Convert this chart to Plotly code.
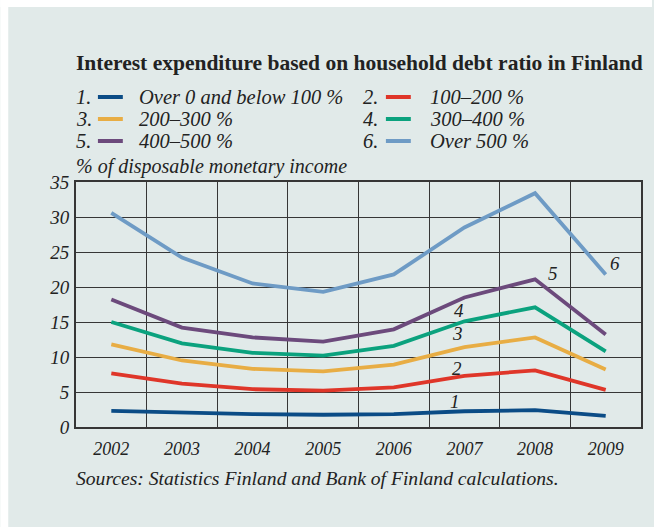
import plotly.graph_objects as go

# Years on the horizontal axis
years = [2002, 2003, 2004, 2005, 2006, 2007, 2008, 2009]

# Interest expenditure, % of disposable monetary income, by debt-ratio group
s1_below100 = [2.3, 2.05, 1.85, 1.75, 1.85, 2.25, 2.4, 1.6]
s2_100_200 = [7.65, 6.2, 5.4, 5.2, 5.65, 7.3, 8.1, 5.3]
s3_200_300 = [11.8, 9.5, 8.3, 7.95, 8.9, 11.4, 12.8, 8.2]
s4_300_400 = [15.0, 11.95, 10.6, 10.2, 11.6, 15.1, 17.1, 10.8]
s5_400_500 = [18.2, 14.2, 12.8, 12.2, 13.95, 18.5, 21.1, 13.2]
s6_over500 = [30.6, 24.2, 20.5, 19.3, 21.8, 28.5, 33.4, 21.8]

series = [s1_below100, s2_100_200, s3_200_300, s4_300_400, s5_400_500, s6_over500]
legend_labels = ["Over 0 and below 100 %", "100–200 %", "200–300 %",
                 "300–400 %", "400–500 %", "Over 500 %"]
colors = ["#0b4c86", "#df3629", "#e8ad44", "#0ba27e", "#6c4a7c", "#6e9bc5"]

# Numbers written next to the lines: (x, y) in data units
line_tags = ["1", "2", "3", "4", "5", "6"]
tag_pos = [(2006.87, 3.6), (2006.9, 8.4), (2006.9, 13.3),
           (2006.92, 16.6), (2008.25, 22.0), (2009.13, 23.3)]

y_ticks = [0, 5, 10, 15, 20, 25, 30, 35]

PANEL = "#e1eae9"
INK = "#222222"
GRID = "#363636"
SERIF = "Liberation Serif"

W, H = 654, 527
ML, MR, MT, MB = 76, 11, 182, 100
PW, PH = W - ML - MR, H - MT - MB


def px_x(px):
    return (px - ML) / PW


def px_y(py):
    return (H - MB - py) / PH


fig = go.Figure()
for vals, col in zip(series, colors):
    fig.add_trace(go.Scatter(x=years, y=vals, mode="lines",
                             line=dict(color=col, width=3.8),
                             showlegend=False, hoverinfo="skip"))

annotations = []
shapes = []

# white outer frame around the tinted panel
shapes.append(dict(type="rect", xref="paper", yref="paper",
                   x0=px_x(0), x1=px_x(8), y0=px_y(H), y1=px_y(0),
                   fillcolor="white", line=dict(width=0), layer="below"))
shapes.append(dict(type="rect", xref="paper", yref="paper",
                   x0=px_x(0), x1=px_x(W), y0=px_y(7), y1=px_y(0),
                   fillcolor="white", line=dict(width=0), layer="below"))

# title
annotations.append(dict(text="<b>Interest expenditure based on household debt ratio in Finland</b>",
                        xref="paper", yref="paper", x=px_x(74), y=px_y(63),
                        xanchor="left", yanchor="middle", showarrow=False,
                        font=dict(family=SERIF, size=21.5, color=INK)))

# legend: two columns, three rows
col_x = [(74, 98, 137), (362, 387, 429)]
row_y = [97, 119, 141]
for i, (lab, col) in enumerate(zip(legend_labels, colors)):
    cx = col_x[i % 2]
    ry = row_y[i // 2]
    annotations.append(dict(text=f"{i + 1}.", xref="paper", yref="paper",
                            x=px_x(cx[0]), y=px_y(ry), xanchor="left", yanchor="middle",
                            showarrow=False,
                            font=dict(family=SERIF, size=20.5, color=INK, style="italic")))
    shapes.append(dict(type="line", xref="paper", yref="paper",
                       x0=px_x(cx[1]), x1=px_x(cx[1] + 25), y0=px_y(ry), y1=px_y(ry),
                       line=dict(color=col, width=4)))
    annotations.append(dict(text=lab, xref="paper", yref="paper",
                            x=px_x(cx[2]), y=px_y(ry), xanchor="left", yanchor="middle",
                            showarrow=False,
                            font=dict(family=SERIF, size=20.5, color=INK, style="italic")))

# unit label
annotations.append(dict(text="% of disposable monetary income", xref="paper", yref="paper",
                        x=px_x(74), y=px_y(166), xanchor="left", yanchor="middle",
                        showarrow=False,
                        font=dict(family=SERIF, size=20, color=INK, style="italic")))

# source note
annotations.append(dict(text="Sources: Statistics Finland and Bank of Finland calculations.",
                        xref="paper", yref="paper", x=px_x(74), y=px_y(479),
                        xanchor="left", yanchor="middle", showarrow=False,
                        font=dict(family=SERIF, size=19.6, color=INK, style="italic")))

# line tags
for t, (tx, ty) in zip(line_tags, tag_pos):
    annotations.append(dict(text=t, x=tx, y=ty, xref="x", yref="y",
                            xanchor="center", yanchor="middle", showarrow=False,
                            font=dict(family=SERIF, size=19, color=INK, style="italic")))

fig.update_layout(
    width=W, height=H,
    margin=dict(l=ML, r=MR, t=MT, b=MB, pad=0),
    paper_bgcolor=PANEL, plot_bgcolor=PANEL,
    annotations=annotations, shapes=shapes,
    xaxis=dict(range=[2001.5, 2009.5], tickvals=years, ticktext=[str(y) for y in years],
               showgrid=False, zeroline=False,
               showline=True, linecolor=GRID, linewidth=2, mirror=True,
               ticks="", ticklabelstandoff=4,
               minor=dict(tick0=2001.5, dtick=1, showgrid=True, gridcolor=GRID,
                          gridwidth=1, ticks=""),
               tickfont=dict(family=SERIF, size=18, color=INK, style="italic")),
    yaxis=dict(range=[0, 35], tickvals=y_ticks, showgrid=True, gridcolor=GRID, gridwidth=1,
               zeroline=False, showline=True, linecolor=GRID, linewidth=2, mirror=True,
               ticks="outside", ticklen=1, tickcolor=PANEL, ticklabelstandoff=0,
               tickfont=dict(family=SERIF, size=19, color=INK, style="italic")),
)

fig.write_html("out.html")
